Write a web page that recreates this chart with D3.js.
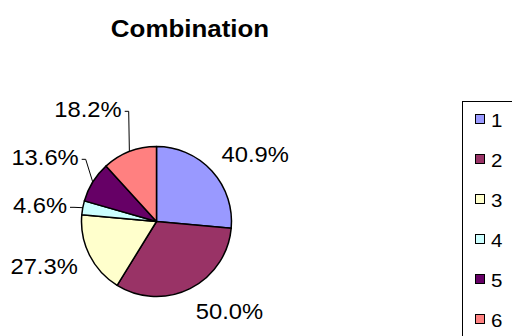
<!DOCTYPE html>
<html>
<head>
<meta charset="utf-8">
<script src="https://cdn.jsdelivr.net/npm/d3@7/dist/d3.min.js"></script>
<style>
  html, body { margin: 0; padding: 0; background: #fff; }
  svg { display: block; }
</style>
</head>
<body>
<svg id="chart" width="512" height="336"></svg>
<script>
// Chart data
const title = "Combination";
const categories = ["1", "2", "3", "4", "5", "6"];
const shares = [40.9, 50.0, 27.3, 4.6, 13.6, 18.2];
const sliceColors = ["#9999FF", "#993366", "#FFFFCC", "#CCFFFF", "#660066", "#FF8080"];

// Layout
const FONT = "'Liberation Sans', Arial, Helvetica, sans-serif";
const cx = 156.5, cy = 221.5, radius = 75;
const labelSize = 22, stretch = 1.08, capH = labelSize * 0.716;
const labelRadius = 88, labelGap = 48;

const svg = d3.select("#chart");
svg.append("rect").attr("width", 512).attr("height", 336).attr("fill", "#fff");

svg.append("text")
  .attr("transform", "translate(190,36.5) scale(1.08,1)")
  .attr("text-anchor", "middle")
  .attr("font-family", FONT)
  .attr("font-weight", "bold")
  .attr("font-size", 24)
  .attr("fill", "#000")
  .text(title);

const color = d3.scaleOrdinal().domain(categories).range(sliceColors);
const rows = categories.map((c, i) => ({ cat: c, value: shares[i] }));
const total = d3.sum(shares);

const pie = d3.pie().sort(null).value(d => d.value);
const arcs = pie(rows);
const arc = d3.arc().innerRadius(0).outerRadius(radius);

const g = svg.append("g").attr("transform", `translate(${cx},${cy})`);

g.selectAll("path.slice")
  .data(arcs)
  .join("path")
  .attr("class", "slice")
  .attr("d", arc)
  .attr("fill", d => color(d.data.cat))
  .attr("stroke", "#000")
  .attr("stroke-width", 1.5)
  .attr("stroke-linejoin", "round");

// Label placement: text box just outside the rim, on the side facing the centre
const labels = arcs.map(d => {
  const mid = (d.startAngle + d.endAngle) / 2;
  const s = Math.sin(mid), c = Math.cos(mid);
  const px = s * labelRadius, py = -c * labelRadius;
  const yc = Math.abs(c) > 0.3 ? py - c * capH * 0.8 : py;
  return {
    d, mid, s, x: px, yc, anchor: s >= 0 ? "start" : "end",
    moved: false, frac: d.value / total
  };
});

// Stack labels on each side so they keep a minimum vertical gap
["L", "R"].forEach(side => {
  const list = labels.filter(l => (side === "L") === (l.s < 0))
    .sort((a, b) => b.yc - a.yc);
  for (let k = 1; k < list.length; k++) {
    const lim = list[k - 1].yc - labelGap;
    if (list[k].yc > lim) { list[k].yc = lim; list[k].moved = true; }
  }
});

labels.forEach(l => {
  l.leader = l.moved || l.frac < 0.05;
  if (l.leader) l.x += (l.s < 0 ? -3 : 3);
});

const lg = g.append("g");
labels.filter(l => l.leader).forEach(l => {
  const dir = l.s < 0 ? 1 : -1;
  const y = l.yc + 2;
  const x0 = l.x + dir * 3, x1 = l.x + dir * 7;
  const ex = Math.sin(l.mid) * radius, ey = -Math.cos(l.mid) * radius;
  lg.append("path")
    .attr("d", `M${x0},${y}L${x1},${y}L${ex},${ey}`)
    .attr("fill", "none")
    .attr("stroke", "#000")
    .attr("stroke-width", 1);
});

g.selectAll("text.lab")
  .data(labels)
  .join("text")
  .attr("class", "lab")
  .attr("transform", l => `translate(${l.x},${l.yc + capH / 2}) scale(${stretch},1)`)
  .attr("text-anchor", l => l.anchor)
  .attr("font-family", FONT)
  .attr("font-size", labelSize)
  .attr("fill", "#000")
  .text(l => l.d.value.toFixed(1) + "%");

// Legend
const legend = svg.append("g");
legend.append("rect")
  .attr("x", 462.5).attr("y", 101.5)
  .attr("width", 80).attr("height", 260)
  .attr("fill", "#fff").attr("stroke", "#000").attr("stroke-width", 1);

const item = legend.selectAll("g.item")
  .data(categories)
  .join("g")
  .attr("class", "item")
  .attr("transform", (c, i) => `translate(0,${i * 40})`);

item.append("rect")
  .attr("x", 475.5).attr("y", 114.5)
  .attr("width", 9).attr("height", 9)
  .attr("fill", c => color(c))
  .attr("stroke", "#000").attr("stroke-width", 1);

item.append("text")
  .attr("transform", `translate(491,127) scale(${stretch},1)`)
  .attr("font-family", FONT)
  .attr("font-size", 19)
  .attr("fill", "#000")
  .text(c => c);
</script>
</body>
</html>
